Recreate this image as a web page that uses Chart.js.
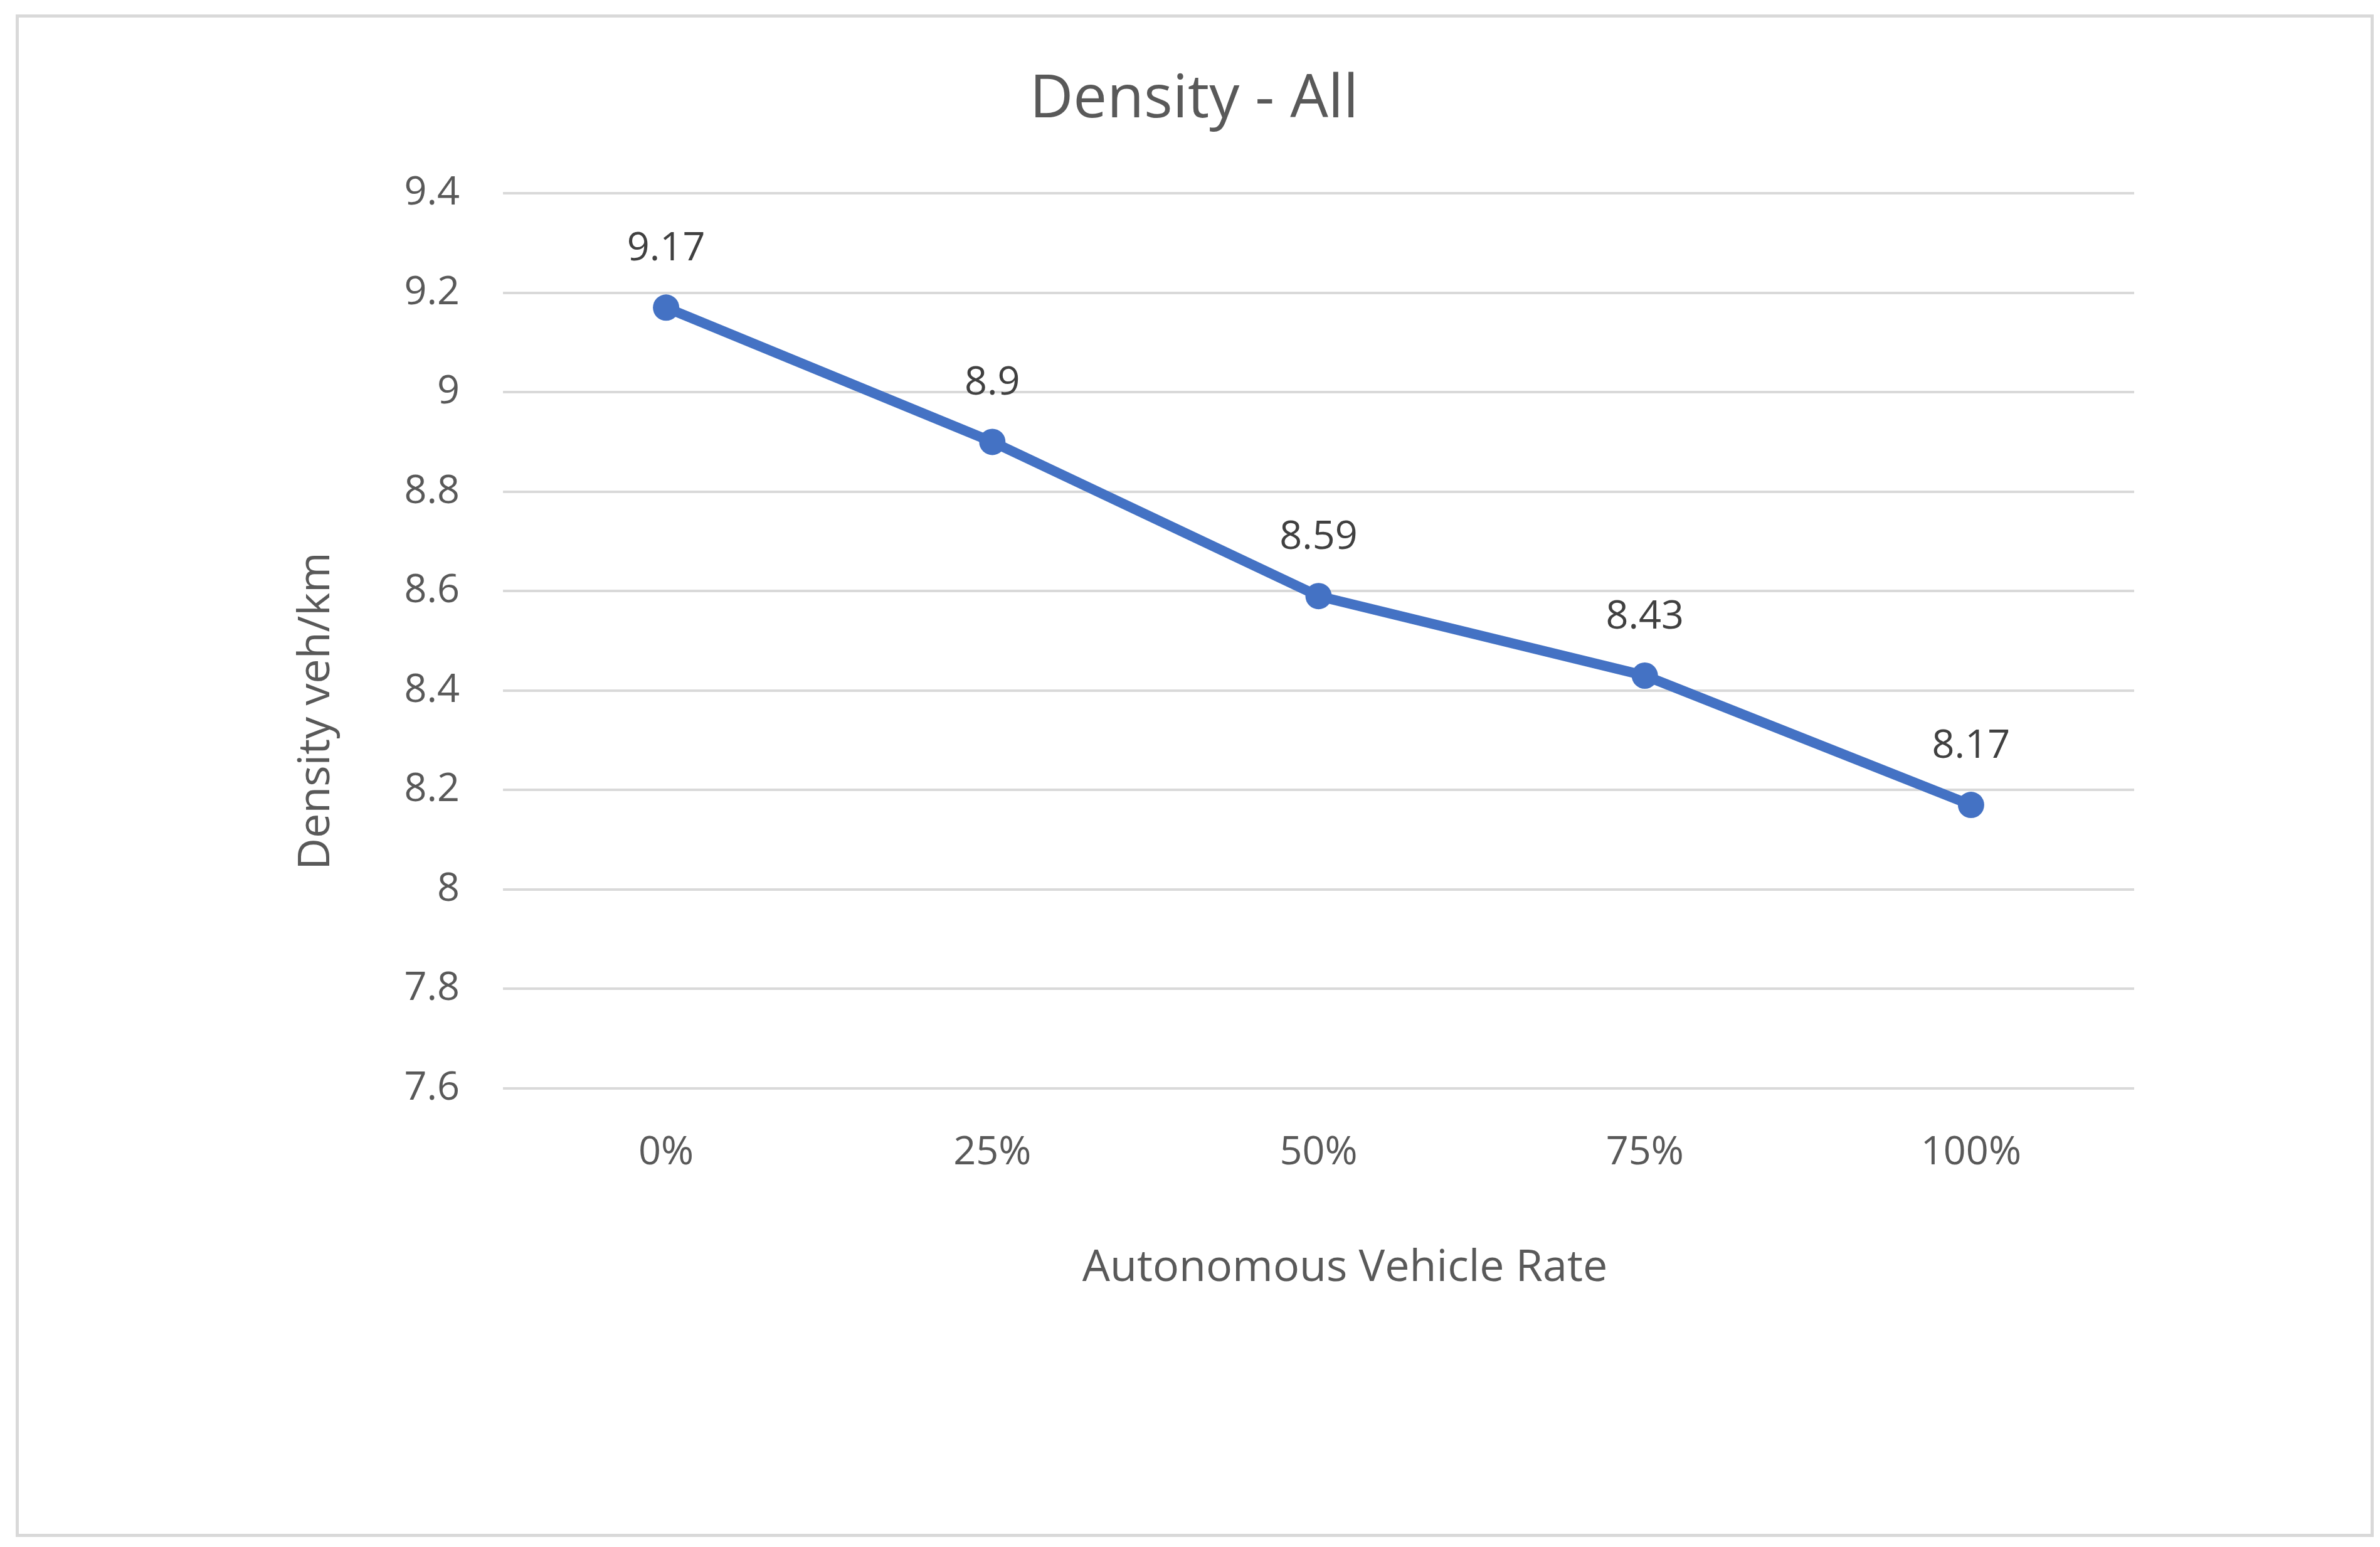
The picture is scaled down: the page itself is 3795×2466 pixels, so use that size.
<!DOCTYPE html>
<html>
<head>
<meta charset="utf-8">
<title>Density - All</title>
<script src="https://cdn.jsdelivr.net/npm/chart.js@4.4.1/dist/chart.umd.min.js"></script>
<style>
  body { margin: 0; background: #ffffff; }
  canvas { display: block; }
</style>
</head>
<body>
<canvas id="myChart" width="3795" height="2466"></canvas>
<script>
// chart data
const categories = ["0%", "25%", "50%", "75%", "100%"];
const density = [9.17, 8.9, 8.59, 8.43, 8.17];
const yTickLabels = ["7.6", "7.8", "8", "8.2", "8.4", "8.6", "8.8", "9", "9.2", "9.4"];

const chartTitle = "Density - All";
const xTitle = "Autonomous Vehicle Rate";
const yTitle = "Density veh/km";

Chart.defaults.font.family = "'Open Sans', sans-serif";
Chart.defaults.color = "#595959";

// draws the outer frame, the chart title, axis titles and the value labels
const extras = {
  id: "extras",
  beforeDraw(chart) {
    const ctx = chart.ctx;
    ctx.save();
    ctx.fillStyle = "#ffffff";
    ctx.fillRect(0, 0, chart.width, chart.height);
    ctx.strokeStyle = "#d9d9d9";
    ctx.lineWidth = 5;
    ctx.strokeRect(27.5, 25.5, 3755, 2422);
    ctx.restore();
  },
  afterDatasetsDraw(chart) {
    const ctx = chart.ctx;
    const area = chart.chartArea;
    ctx.save();
    ctx.textAlign = "center";
    ctx.textBaseline = "alphabetic";

    // chart title, centred over the whole frame
    ctx.fillStyle = "#595959";
    ctx.font = "96px 'Open Sans'";
    ctx.fillText(chartTitle, 1904, 153 + 34);

    // axis titles (baseline placed so cap centre lands where wanted)
    ctx.font = "70px 'Open Sans'";
    ctx.fillText(xTitle, (area.left + area.right) / 2 + 42, area.bottom + 282 + 25);

    ctx.save();
    ctx.translate(area.left - 302, (area.top + area.bottom) / 2 + 112);
    ctx.rotate(-Math.PI / 2);
    ctx.fillText(yTitle, 0, 25);
    ctx.restore();

    // value labels above each point
    const meta = chart.getDatasetMeta(0);
    ctx.fillStyle = "#404040";
    ctx.font = "63px 'Open Sans'";
    meta.data.forEach(function (pt, i) {
      ctx.fillText(String(density[i]), pt.x, pt.y - 97 + 22);
    });
    ctx.restore();
  }
};

function renderChart() {
  const ctx = document.getElementById("myChart");

  new Chart(ctx, {
    type: "line",
    data: {
      labels: categories,
      datasets: [
        {
          label: "Density",
          data: density,
          borderColor: "#4472C4",
          backgroundColor: "#4472C4",
          borderWidth: 16,
          pointRadius: 21,
          pointHoverRadius: 21,
          pointBorderWidth: 0,
          pointBackgroundColor: "#4472C4",
          tension: 0,
        },
      ],
    },
    options: {
      responsive: false,
      animation: false,
      devicePixelRatio: 1,
      layout: {
        padding: { top: 308, left: 0, right: 392, bottom: 0 },
      },
      plugins: {
        legend: { display: false },
        tooltip: { enabled: false },
        title: { display: false },
      },
      scales: {
        x: {
          offset: true,
          grid: { display: false },
          border: { display: false },
          ticks: {
            color: "#595959",
            font: { size: 63 },
            padding: 57,
            maxRotation: 0,
          },
          afterFit(scale) {
            scale.height = 731;
          },
        },
        y: {
          min: 7.6,
          max: 9.4,
          grid: { color: "#d9d9d9", lineWidth: 4, drawTicks: false },
          border: { display: false },
          ticks: {
            stepSize: 0.2,
            color: "#595959",
            font: { size: 63 },
            padding: 69,
            callback: function (value, index) {
              return yTickLabels[index];
            },
          },
          afterFit(scale) {
            scale.width = 802;
          },
        },
      },
    },
    plugins: [extras],
  });
}

renderChart();
</script>
</body>
</html>
